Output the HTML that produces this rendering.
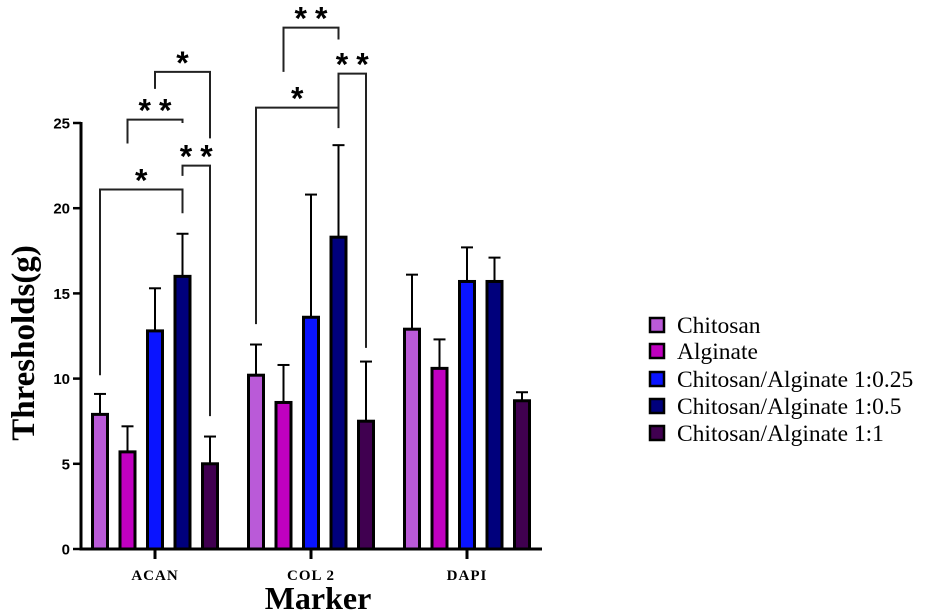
<!DOCTYPE html>
<html><head><meta charset="utf-8"><style>
html,body{margin:0;padding:0;background:#fff;}
svg{display:block;}
</style></head><body>
<svg id="chart" width="926" height="614" xmlns="http://www.w3.org/2000/svg"></svg>
<script>
const categories = ["ACAN","COL 2","DAPI"];
const seriesNames = ["Chitosan","Alginate","Chitosan/Alginate 1:0.25","Chitosan/Alginate 1:0.5","Chitosan/Alginate 1:1"];
const seriesColors = ["#ba5ad8","#c000c0","#0a14ff","#00007c","#400050"];
const chitosan = [7.9,10.2,12.9];
const alginate = [5.7,8.6,10.6];
const ca025 = [12.8,13.6,15.7];
const ca05 = [16.0,18.3,15.7];
const ca11 = [5.0,7.5,8.7];
const chitosanErr = [1.2,1.8,3.2];
const alginateErr = [1.5,2.2,1.7];
const ca025Err = [2.5,7.2,2.0];
const ca05Err = [2.5,5.4,1.4];
const ca11Err = [1.6,3.5,0.5];
const yTicks = [0,5,10,15,20,25];
// brackets: [category, seriesA, seriesB, barY, legA, legB, label]
const brackets = [
 [0,0,3,21.1,10.2,19.7,"*"],
 [0,1,3,25.2,23.8,25.0,"**"],
 [0,2,4,28.0,27.0,24.1,"*"],
 [0,3,4,22.5,21.9,7.8,"**"],
 [1,0,3,25.9,13.2,24.9,"*"],
 [1,1,3,30.6,28.0,29.9,"**"],
 [1,3,4,27.9,24.7,11.8,"**"]
];
const values=[chitosan,alginate,ca025,ca05,ca11];
const errs=[chitosanErr,alginateErr,ca025Err,ca05Err,ca11Err];
const svg=document.getElementById('chart');
const NS="http://www.w3.org/2000/svg";
const y0=549, yPx=17.04;
const y=v=>y0-v*yPx;
const xCat=i=>155+i*156;
const xBar=(c,s)=>xCat(c)+(s-2)*27.5;
function mk(tag,attrs,parent){const e=document.createElementNS(NS,tag);for(const k in attrs)e.setAttribute(k,attrs[k]);(parent||svg).appendChild(e);return e;}
const F="'Liberation Serif',serif";
values.forEach((arr,s)=>arr.forEach((v,c)=>{
 const cx=xBar(c,s), top=y(v), et=y(v+errs[s][c]);
 const l=mk('line',{x1:cx,x2:cx,y1:top,y2:et,stroke:'#000','stroke-width':2});
 
 
 const cap=mk('line',{x1:cx-6,x2:cx+6,y1:et,y2:et,stroke:'#000','stroke-width':2});
 
 
 const r=mk('rect',{x:cx-7.5,y:top,width:15,height:y0-top,fill:seriesColors[s],stroke:'#000','stroke-width':3});
 
 
}));
const ya=mk('line',{x1:81,x2:81,y1:y(25)-1,y2:y0+1.5,stroke:'#000','stroke-width':3});


const xa=mk('line',{x1:79.5,x2:542,y1:y0,y2:y0,stroke:'#000','stroke-width':3});


yTicks.forEach(t=>{
 mk('line',{x1:73,x2:81,y1:y(t),y2:y(t),stroke:'#000','stroke-width':2.5});
 const tx=mk('text',{x:70,y:y(t)+5.5,'text-anchor':'end','font-family':"'Liberation Sans',sans-serif",'font-weight':'bold','font-size':15});
 tx.textContent=t;
 
 
});
categories.forEach((c,i)=>{
 mk('line',{x1:xCat(i),x2:xCat(i),y1:y0,y2:y0+10,stroke:'#000','stroke-width':3});
 const tx=mk('text',{x:xCat(i),y:580,'text-anchor':'middle','font-family':F,'font-weight':'bold','font-size':15,'letter-spacing':1});
 tx.textContent=c;
 
 
});
const xt=mk('text',{x:318,y:609,'text-anchor':'middle','font-family':F,'font-weight':'bold','font-size':32});
xt.textContent='Marker';


const yt=mk('text',{x:0,y:0,'text-anchor':'middle','font-family':F,'font-weight':'bold','font-size':33,transform:'translate(34,343) rotate(-90)'});
yt.textContent='Thresholds(g)';


brackets.forEach(b=>{
 const xa_=xBar(b[0],b[1]), xb=xBar(b[0],b[2]);
 const p=mk('path',{d:`M${xa_},${y(b[4])}V${y(b[3])}H${xb}V${y(b[5])}`,fill:'none',stroke:'#222','stroke-width':2});
 
 
 const t=mk('text',{x:(xa_+xb)/2+(b[6].length>1?4:0),y:y(b[3])+2,'text-anchor':'middle','font-family':"'Liberation Sans',sans-serif",'font-weight':'bold','font-size':32,'letter-spacing':b[6].length>1?8:0});
 t.textContent=b[6];
 
 
});
const ly=[326,352,380,407,434];
seriesNames.forEach((n,i)=>{
 const g=mk('g',{});
 
 
 mk('rect',{x:650,y:ly[i]-8,width:14,height:14,fill:seriesColors[i],stroke:'#000','stroke-width':2.5},g);
 const t=mk('text',{x:677,y:ly[i]+7,'font-family':F,'font-size':23.5},g);
 t.textContent=n;
});
</script>
</body></html>
